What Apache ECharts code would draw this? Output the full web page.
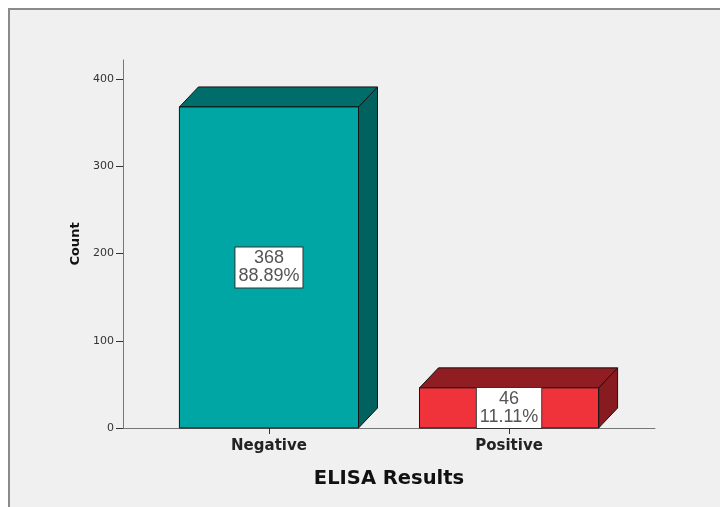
<!DOCTYPE html>
<html>
<head>
<meta charset="utf-8">
<script src="https://cdn.jsdelivr.net/npm/echarts@6/dist/echarts.min.js"></script>
<style>
html,body{margin:0;padding:0;background:#ffffff;}
#chart{width:720px;height:507px;}
</style>
</head>
<body>
<div id="chart"></div>
<script>
const categories = ['Negative', 'Positive'];
const counts = [368, 46];
const yTicks = [0, 100, 200, 300, 400];

const frontColors = ['#00A6A4', '#F0333B'];
const topColors = ['#006D6A', '#8F1D22'];
const sideColors = ['#00615F', '#881B20'];

const total = counts.reduce((a, b) => a + b, 0);
const pct = counts.map(v => (v / total * 100).toFixed(2) + '%');

const chart = echarts.init(document.getElementById('chart'), null, {renderer: 'canvas'});

const DX = 19, DY = -20;
const FONT = '"Liberation Sans", Arial, sans-serif';
const FONT2 = '"DejaVu Sans", sans-serif';

function renderItem(params, api) {
  const idx = params.dataIndex;
  const xv = api.value(0), yv = api.value(1);
  const pTop = api.coord([xv, yv]);
  const pBase = api.coord([xv, 0]);
  const w = api.size([1, 0])[0] * 0.746;
  const x0 = pTop[0] - w / 2, x1 = pTop[0] + w / 2;
  const yt = pTop[1], yb = pBase[1];
  const stroke = {stroke: '#151515', lineWidth: 1};
  return {
    type: 'group',
    children: [
      {type: 'polygon', shape: {points: [[x1, yt], [x1 + DX, yt + DY], [x1 + DX, yb + DY], [x1, yb]]},
        style: Object.assign({fill: sideColors[idx]}, stroke)},
      {type: 'polygon', shape: {points: [[x0, yt], [x0 + DX, yt + DY], [x1 + DX, yt + DY], [x1, yt]]},
        style: Object.assign({fill: topColors[idx]}, stroke)},
      {type: 'rect', shape: {x: x0, y: yt, width: w, height: yb - yt},
        style: Object.assign({fill: frontColors[idx]}, stroke)},
      {type: 'text', x: (x0 + x1) / 2, y: (yt + yb) / 2,
        style: {
          text: counts[idx] + '\n' + pct[idx],
          align: 'center', verticalAlign: 'middle',
          font: '18px ' + FONT, fill: '#555555',
          lineHeight: 18,
          backgroundColor: '#ffffff', borderColor: '#333333', borderWidth: 1,
          padding: [2, 3, 2, 3]
        }}
    ]
  };
}

const option = {
  backgroundColor: '#ffffff',
  animation: false,
  graphic: [{
    type: 'rect', z: -10, silent: true,
    shape: {x: 9, y: 9, width: 720, height: 507},
    style: {fill: '#F0F0F0', stroke: '#8a8a8a', lineWidth: 2}
  }],
  grid: {left: 123, right: 65, top: 60, bottom: 79},
  xAxis: {
    type: 'value', min: -0.608, max: 1.608,
    splitLine: {show: false},
    axisLine: {show: true, onZero: false, lineStyle: {color: '#777', width: 1}},
    axisTick: {show: true, length: 6, customValues: [0, 1], lineStyle: {color: '#333'}},
    axisLabel: {
      customValues: [0, 1],
      formatter: v => categories[Math.round(v)] || '',
      fontFamily: FONT2, fontSize: 15, fontWeight: 'bold', color: '#222', margin: 11
    },
    name: 'ELISA Results', nameLocation: 'middle', nameGap: 41,
    nameTextStyle: {fontFamily: FONT2, fontSize: 19.5, fontWeight: 'bold', color: '#111'}
  },
  yAxis: {
    type: 'value', min: 0, max: 421.8, interval: 100,
    splitLine: {show: false},
    axisLine: {show: true, onZero: false, lineStyle: {color: '#777', width: 1}},
    axisTick: {show: true, length: 7, customValues: yTicks, lineStyle: {color: '#333'}},
    axisLabel: {customValues: yTicks, fontFamily: FONT2, fontSize: 11, color: '#333', margin: 9},
    name: 'Count', nameLocation: 'middle', nameGap: 40,
    nameTextStyle: {fontFamily: FONT2, fontSize: 13, fontWeight: 'bold', color: '#111'}
  },
  series: [{
    type: 'custom',
    renderItem: renderItem,
    data: counts.map((v, i) => [i, v]),
    clip: false
  }]
};
chart.setOption(option);
</script>
</body>
</html>
